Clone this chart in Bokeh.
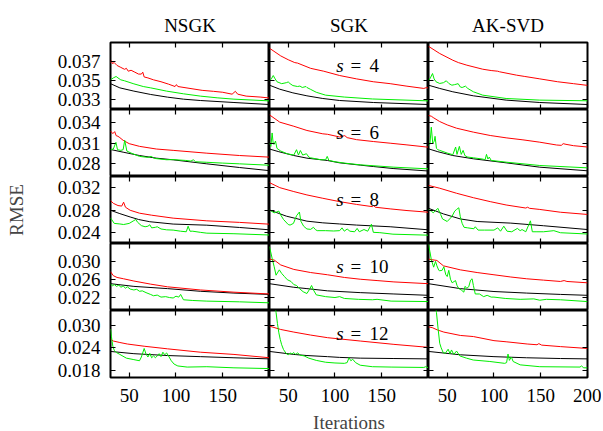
from bokeh.plotting import figure
from bokeh.layouts import gridplot
from bokeh.models import LinearAxis, FixedTicker, Range1d, Label, NumeralTickFormatter
from bokeh.embed import file_html
from bokeh.resources import INLINE

# ---------------- data ----------------
METHODS = ["NSGK", "SGK", "AK-SVD"]
KEYS = ["NSGK", "SGK", "AKSVD"]
SPARSITY = [4, 6, 8, 10, 12]
X_RANGE = [30, 200]
Y_RANGES = [[0.032, 0.039], [0.026, 0.036], [0.022, 0.034], [0.019, 0.034], [0.016, 0.034]]
Y_TICKS = [[0.033, 0.035, 0.037], [0.028, 0.031, 0.034], [0.024, 0.028, 0.032],
           [0.022, 0.026, 0.030], [0.018, 0.024, 0.030]]
X_TICKS = [50, 100, 150]
X_TICKS_LAST = [50, 100, 150, 200]

# s = 4
NSGK_S4_RED_X = [30, 31, 32, 34, 37, 41, 45, 47, 49, 52, 56, 60, 63, 64.5, 66, 70, 76, 84, 92, 99, 100.5, 102, 115, 128, 140, 150, 160, 163.5, 166, 175, 190, 200]
NSGK_S4_RED_Y = [0.0369, 0.0371, 0.0368, 0.0369, 0.0366, 0.0364, 0.0362, 0.0363, 0.0360, 0.0361, 0.0359, 0.0357, 0.0357, 0.0359, 0.0354, 0.0353, 0.0351, 0.0349, 0.03465, 0.0344, 0.0346, 0.0344, 0.0342, 0.0340, 0.0339, 0.0338, 0.0336, 0.0339, 0.0336, 0.0334, 0.0333, 0.0332]
NSGK_S4_GREEN_X = [30, 33, 36, 38, 41, 45, 55, 65, 73, 90, 108, 126, 144, 162, 200]
NSGK_S4_GREEN_Y = [0.0351, 0.0353, 0.03545, 0.0353, 0.0351, 0.0350, 0.03468, 0.0344, 0.03426, 0.03392, 0.03364, 0.0334, 0.03322, 0.03308, 0.0329]
NSGK_S4_BLACK_X = [30, 40, 55, 73, 91, 108, 126, 162, 200]
NSGK_S4_BLACK_Y = [0.0347, 0.03426, 0.03392, 0.03357, 0.03329, 0.03308, 0.03294, 0.03273, 0.03252]
SGK_S4_RED_X = [30, 42, 50, 57, 60, 74, 88, 105, 123, 141, 159, 176, 195, 198, 200]
SGK_S4_RED_Y = [0.0384, 0.0376, 0.0372, 0.0369, 0.03685, 0.0363, 0.0360, 0.03555, 0.0352, 0.0349, 0.0347, 0.03445, 0.0342, 0.0343, 0.0342]
SGK_S4_GREEN_X = [30, 32, 34, 36, 38, 43, 48, 50, 52, 55, 60, 62.5, 65, 69, 70, 74, 80, 90, 110, 140, 200]
SGK_S4_GREEN_Y = [0.0350, 0.0352, 0.03555, 0.0352, 0.0349, 0.0347, 0.0348, 0.03488, 0.0347, 0.0345, 0.0344, 0.03445, 0.0343, 0.0344, 0.0343, 0.0341, 0.0338, 0.0335, 0.0333, 0.0331, 0.0329]
SGK_S4_BLACK_X = [30, 41, 55, 70, 87, 105, 141, 200]
SGK_S4_BLACK_Y = [0.03454, 0.03412, 0.03374, 0.03343, 0.03315, 0.03294, 0.03273, 0.03252]
AKSVD_S4_RED_X = [30, 42, 56, 62, 71, 88, 97, 104, 106, 124, 133, 149, 168, 185, 200]
AKSVD_S4_RED_Y = [0.0386, 0.03785, 0.03715, 0.0369, 0.03663, 0.03621, 0.03607, 0.0360, 0.03594, 0.03559, 0.03545, 0.0352, 0.0349, 0.0347, 0.03452]
AKSVD_S4_GREEN_X = [30, 32, 34.3, 36, 38, 42, 46, 49, 52, 55, 58, 61.7, 64, 66, 69.5, 72, 78, 88, 113, 149, 200]
AKSVD_S4_GREEN_Y = [0.0350, 0.0353, 0.03576, 0.0352, 0.0349, 0.03472, 0.0348, 0.0350, 0.0347, 0.03454, 0.0346, 0.0347, 0.03435, 0.0343, 0.03444, 0.0342, 0.03385, 0.0335, 0.03315, 0.03298, 0.03291]
AKSVD_S4_BLACK_X = [30, 42, 56, 78, 113, 149, 200]
AKSVD_S4_BLACK_Y = [0.03454, 0.0342, 0.03385, 0.03343, 0.03298, 0.03273, 0.03252]

# s = 6
NSGK_S6_RED_X = [30, 32.5, 34.5, 36, 38, 40, 43.5, 50, 61, 79, 97, 133, 168, 200]
NSGK_S6_RED_Y = [0.0328, 0.0324, 0.0327, 0.0321, 0.0320, 0.0318, 0.0314, 0.0309, 0.0305, 0.0301, 0.0299, 0.02948, 0.02913, 0.02889]
NSGK_S6_GREEN_X = [30, 33, 35.8, 37.5, 41, 43.5, 45.2, 47.5, 52, 61, 70, 73.5, 77, 90, 97, 110, 116, 118.5, 121, 133, 150, 168, 200]
NSGK_S6_GREEN_Y = [0.0300, 0.0301, 0.0311, 0.0300, 0.0299, 0.0300, 0.0314, 0.0298, 0.0295, 0.0290, 0.02885, 0.0290, 0.0287, 0.0285, 0.02852, 0.0284, 0.0283, 0.0285, 0.0282, 0.02812, 0.0280, 0.02789, 0.02768]
NSGK_S6_BLACK_X = [30, 43.5, 61, 79, 97, 133, 168, 200]
NSGK_S6_BLACK_Y = [0.03003, 0.02963, 0.02913, 0.02874, 0.02849, 0.02789, 0.02734, 0.02687]
SGK_S6_RED_X = [30, 41, 56, 70, 87, 92, 105, 110.5, 113, 123, 141, 159, 176, 198, 200]
SGK_S6_RED_Y = [0.0352, 0.03411, 0.0335, 0.03287, 0.03237, 0.0323, 0.0319, 0.0321, 0.0318, 0.0315, 0.03122, 0.03097, 0.03073, 0.0304, 0.0304]
SGK_S6_GREEN_X = [30, 31.5, 32.8, 34, 35, 36.4, 38, 42, 49, 56, 58.9, 61, 63, 65.5, 69.5, 72, 74, 85, 90, 91.7, 93.5, 100, 110, 127, 163, 200]
SGK_S6_GREEN_Y = [0.0310, 0.0305, 0.0325, 0.0309, 0.0308, 0.0313, 0.0302, 0.0298, 0.02939, 0.0292, 0.0300, 0.0292, 0.02988, 0.0292, 0.0294, 0.0289, 0.02879, 0.0285, 0.0285, 0.0290, 0.0284, 0.0282, 0.0280, 0.02774, 0.02739, 0.02714]
SGK_S6_BLACK_X = [30, 40, 56, 70, 92, 105, 127, 141, 163, 200]
SGK_S6_BLACK_Y = [0.0301, 0.0297, 0.02913, 0.02874, 0.02839, 0.02804, 0.0277, 0.02749, 0.02718, 0.02682]
AKSVD_S6_RED_X = [30, 33, 35, 42, 50, 60, 78, 96, 113, 131, 149, 167, 172, 174, 177, 185, 200]
AKSVD_S6_RED_Y = [0.0351, 0.0350, 0.0348, 0.0342, 0.0337, 0.03321, 0.03262, 0.03212, 0.03177, 0.03147, 0.03112, 0.0307, 0.03065, 0.0309, 0.0308, 0.0306, 0.0304]
AKSVD_S6_GREEN_X = [30, 31.5, 33, 34.5, 36, 37, 38.5, 40, 42, 50, 56, 59, 60.5, 63, 65, 67, 69, 72, 78, 88, 90.5, 92, 93.5, 95, 97, 113, 149, 200]
AKSVD_S6_GREEN_Y = [0.0306, 0.0308, 0.03336, 0.0310, 0.0312, 0.0320, 0.0302, 0.0300, 0.0299, 0.0295, 0.02925, 0.0304, 0.0293, 0.0305, 0.0293, 0.0299, 0.0291, 0.0289, 0.02879, 0.0286, 0.0285, 0.0293, 0.0286, 0.0289, 0.0284, 0.02814, 0.02764, 0.02729]
AKSVD_S6_BLACK_X = [30, 40, 56, 78, 113, 149, 200]
AKSVD_S6_BLACK_Y = [0.03013, 0.0297, 0.02913, 0.02864, 0.02804, 0.02739, 0.02685]

# s = 8
NSGK_S8_RED_X = [30, 33, 38, 42, 44, 46, 51, 61, 74, 97, 133, 168, 200]
NSGK_S8_RED_Y = [0.0297, 0.0292, 0.0288, 0.0287, 0.0294, 0.0285, 0.02795, 0.02743, 0.02707, 0.02654, 0.02606, 0.02578, 0.02546]
NSGK_S8_GREEN_X = [30, 34, 40, 44, 50, 55, 57, 59, 63, 67, 70, 72, 74, 78, 80, 84, 90, 97, 105, 111, 113, 115, 118, 126, 133, 162, 200]
NSGK_S8_GREEN_Y = [0.0266, 0.0256, 0.0255, 0.0254, 0.0256, 0.0261, 0.0263, 0.0258, 0.0252, 0.0250, 0.0251, 0.02535, 0.0248, 0.0249, 0.0250, 0.0246, 0.02445, 0.0244, 0.0242, 0.0241, 0.0251, 0.0242, 0.0242, 0.0240, 0.02385, 0.02375, 0.02352]
NSGK_S8_BLACK_X = [30, 40, 51, 60, 72, 97, 133, 168, 200]
NSGK_S8_BLACK_Y = [0.02795, 0.02735, 0.02675, 0.0263, 0.0259, 0.02548, 0.02528, 0.02487, 0.02445]
SGK_S8_RED_X = [30, 41, 56, 70, 87, 105, 123, 140, 141.5, 143, 159, 177, 200]
SGK_S8_RED_Y = [0.0329, 0.0320, 0.0313, 0.0307, 0.0301, 0.0295, 0.0290, 0.0286, 0.0288, 0.0285, 0.0282, 0.0279, 0.0276]
SGK_S8_GREEN_X = [30, 33, 35, 37, 40, 42, 45, 50, 52, 55.6, 59, 62, 63.5, 66.5, 70, 74, 77, 79, 81, 90, 98.6, 105, 107.5, 110, 113, 116, 121, 123.7, 126, 131, 135, 139, 141, 148, 162, 200]
SGK_S8_GREEN_Y = [0.0280, 0.0277, 0.0275, 0.0276, 0.0278, 0.0271, 0.0263, 0.0254, 0.0253, 0.0256, 0.0270, 0.02764, 0.0260, 0.0251, 0.0246, 0.02453, 0.0249, 0.0245, 0.0243, 0.0243, 0.02424, 0.0243, 0.0248, 0.0242, 0.0246, 0.0242, 0.0241, 0.0247, 0.0241, 0.0245, 0.0242, 0.02546, 0.0240, 0.02394, 0.02367, 0.02349]
SGK_S8_BLACK_X = [30, 48, 70, 87, 105, 123, 159, 200]
SGK_S8_BLACK_Y = [0.0280, 0.0269, 0.0260, 0.0257, 0.0255, 0.0253, 0.0250, 0.02445]
AKSVD_S8_RED_X = [30, 42, 60, 78, 96, 113, 134, 136, 138, 149, 171, 200]
AKSVD_S8_RED_Y = [0.0324, 0.0319, 0.0310, 0.0302, 0.0295, 0.0289, 0.02835, 0.0285, 0.0283, 0.0281, 0.0276, 0.0272]
AKSVD_S8_GREEN_X = [30, 33, 35, 37, 40, 43, 45, 50, 55, 58, 60, 62.4, 64, 66, 68, 72, 78.5, 80, 83, 90, 100, 104, 107, 110.5, 114, 119, 125, 128, 130, 134, 139, 141, 145, 153, 164, 171, 200]
AKSVD_S8_GREEN_Y = [0.02806, 0.0278, 0.0275, 0.0278, 0.0283, 0.0272, 0.0264, 0.02594, 0.02682, 0.0278, 0.0281, 0.0284, 0.0268, 0.0256, 0.0249, 0.0248, 0.02464, 0.0250, 0.0244, 0.0244, 0.0244, 0.0248, 0.0242, 0.0251, 0.0242, 0.0241, 0.0247, 0.0243, 0.0245, 0.0241, 0.02606, 0.0241, 0.0241, 0.0241, 0.0243, 0.02393, 0.0237]
AKSVD_S8_BLACK_X = [30, 46, 64, 82, 118, 153, 200]
AKSVD_S8_BLACK_Y = [0.0283, 0.0273, 0.0264, 0.02594, 0.02565, 0.02518, 0.0245]

# s = 10
NSGK_S10_RED_X = [30, 33, 37, 44, 55, 73, 91, 126, 162, 200]
NSGK_S10_RED_Y = [0.0277, 0.0268, 0.0264, 0.0261, 0.0256, 0.0249, 0.0243, 0.0236, 0.0231, 0.0227]
NSGK_S10_GREEN_X = [30, 32, 34, 36.5, 39, 41, 43.5, 46, 48, 51, 55, 58, 61, 64, 68, 73, 76, 80, 84, 89, 93, 97, 100, 103, 105, 108, 118, 133, 168, 200]
NSGK_S10_GREEN_Y = [0.0250, 0.0245, 0.0248, 0.0244, 0.0247, 0.0242, 0.0245, 0.0240, 0.0243, 0.0238, 0.0236, 0.02375, 0.0233, 0.0234, 0.0230, 0.02258, 0.0223, 0.02245, 0.0220, 0.0221, 0.0219, 0.0218, 0.0222, 0.0220, 0.0226, 0.0214, 0.02124, 0.0211, 0.02094, 0.02072]
NSGK_S10_BLACK_X = [30, 55, 91, 126, 162, 200]
NSGK_S10_BLACK_Y = [0.0250, 0.0244, 0.0239, 0.0233, 0.0229, 0.0226]
SGK_S10_RED_X = [30, 35, 42, 56, 74, 92, 110, 127, 145, 163, 200]
SGK_S10_RED_Y = [0.0305, 0.0303, 0.0292, 0.0282, 0.0275, 0.0270, 0.0264, 0.0260, 0.0257, 0.0254, 0.0250]
SGK_S10_GREEN_X = [30, 33, 35, 37, 39, 40.5, 43, 46, 49, 53, 56, 59, 62, 66, 70, 73, 75, 77, 80, 90, 100, 105, 110, 125, 140, 145, 160, 200]
SGK_S10_GREEN_Y = [0.0333, 0.0305, 0.0288, 0.0269, 0.0276, 0.0281, 0.0273, 0.0266, 0.0259, 0.0255, 0.0248, 0.0246, 0.0239, 0.0232, 0.0228, 0.0238, 0.0246, 0.0236, 0.0225, 0.0221, 0.0219, 0.0221, 0.0217, 0.0215, 0.0214, 0.0215, 0.0211, 0.0210]
SGK_S10_BLACK_X = [30, 56, 70, 92, 127, 163, 200]
SGK_S10_BLACK_Y = [0.0250, 0.0242, 0.0239, 0.0234, 0.0230, 0.0227, 0.0224]
AKSVD_S10_RED_X = [30, 39, 46, 64, 82, 100, 118, 135, 153, 171, 175, 178, 200]
AKSVD_S10_RED_Y = [0.0305, 0.0302, 0.0290, 0.0281, 0.0275, 0.0270, 0.0265, 0.0261, 0.0258, 0.0255, 0.0257, 0.0255, 0.0252]
AKSVD_S10_GREEN_X = [30, 31.5, 33, 35.5, 37.5, 39, 41, 42, 44.6, 46.4, 48.5, 50, 51.7, 53.5, 55.3, 58.9, 60.5, 62.4, 65, 67.8, 69, 71, 73, 75, 76.6, 78, 80, 84.5, 89, 92.7, 97, 100, 112, 128, 142.6, 149, 156, 171, 200]
AKSVD_S10_GREEN_Y = [0.0338, 0.0322, 0.0304, 0.0287, 0.0300, 0.0290, 0.0280, 0.0279, 0.0280, 0.0288, 0.0270, 0.0266, 0.0280, 0.0260, 0.0252, 0.0257, 0.0246, 0.0239, 0.0236, 0.0231, 0.0244, 0.0240, 0.0243, 0.0258, 0.0261, 0.0246, 0.0227, 0.0227, 0.0221, 0.0224, 0.0220, 0.0220, 0.0217, 0.0215, 0.0216, 0.0213, 0.0215, 0.0214, 0.0210]
AKSVD_S10_BLACK_X = [30, 64, 100, 135, 171, 200]
AKSVD_S10_BLACK_Y = [0.0250, 0.0239, 0.02325, 0.0229, 0.0226, 0.0224]

# s = 12
NSGK_S12_RED_X = [30, 33, 40, 48, 66, 91, 126, 162, 200]
NSGK_S12_RED_Y = [0.0263, 0.0258, 0.0254, 0.0250, 0.0244, 0.0237, 0.0228, 0.0222, 0.0213]
NSGK_S12_GREEN_X = [30, 31, 32.5, 34, 36.4, 40, 47, 55, 61, 63, 66, 68, 70, 72, 74, 76, 78, 80, 82, 84, 86, 88, 90, 92, 95, 98, 102, 112, 133, 162, 200]
NSGK_S12_GREEN_Y = [0.0290, 0.0270, 0.0244, 0.0233, 0.0227, 0.0222, 0.0212, 0.0208, 0.0205, 0.0215, 0.0238, 0.0223, 0.0215, 0.0225, 0.0213, 0.0218, 0.0213, 0.0218, 0.0224, 0.0216, 0.0228, 0.0221, 0.0226, 0.0218, 0.0205, 0.0196, 0.0191, 0.0188, 0.0189, 0.0186, 0.0184]
NSGK_S12_BLACK_X = [30, 55, 91, 126, 162, 200]
NSGK_S12_BLACK_Y = [0.0230, 0.0224, 0.0219, 0.0216, 0.0213, 0.0210]
SGK_S12_RED_X = [30, 42, 56, 74, 92, 127, 163, 200]
SGK_S12_RED_Y = [0.0298, 0.0289, 0.0282, 0.0274, 0.0267, 0.0258, 0.0249, 0.0241]
SGK_S12_GREEN_X = [30, 33, 35.5, 37, 38.5, 40, 41.5, 43, 45, 48, 50, 52, 54, 56, 58, 60, 63, 67, 72, 80, 90, 100, 110, 113, 115, 117, 119, 122, 127, 140, 160, 195, 197, 200]
SGK_S12_GREEN_Y = [0.046, 0.041, 0.036, 0.0335, 0.0305, 0.0280, 0.0262, 0.0248, 0.0235, 0.0224, 0.0221, 0.0226, 0.0223, 0.0227, 0.0222, 0.0226, 0.0220, 0.0218, 0.0212, 0.0206, 0.0201, 0.0199, 0.0198, 0.0200, 0.0213, 0.0205, 0.0209, 0.0200, 0.0193, 0.0189, 0.0188, 0.0187, 0.0189, 0.0186]
SGK_S12_BLACK_X = [30, 56, 70, 92, 105, 127, 163, 200]
SGK_S12_BLACK_Y = [0.0230, 0.0222, 0.0219, 0.0216, 0.0214, 0.0212, 0.0211, 0.0210]
AKSVD_S12_RED_X = [30, 34, 39.3, 46.4, 64, 78, 100, 113, 135.5, 146, 148, 151, 171, 200]
AKSVD_S12_RED_Y = [0.0296, 0.0294, 0.0288, 0.0282, 0.0273, 0.0270, 0.0259, 0.0256, 0.0250, 0.0248, 0.0251, 0.0247, 0.0243, 0.0238]
AKSVD_S12_GREEN_X = [30, 34, 37, 38.5, 40.3, 42, 43.5, 45.7, 48, 51, 53, 54.6, 57, 60, 63.5, 70.6, 77.8, 95.6, 111.5, 113.5, 115, 116.5, 118.6, 120.5, 128, 149, 192, 193.5, 196, 200]
AKSVD_S12_GREEN_Y = [0.052, 0.042, 0.0360, 0.0335, 0.0290, 0.0252, 0.0240, 0.0227, 0.0225, 0.0236, 0.0224, 0.0234, 0.0222, 0.0231, 0.0218, 0.0212, 0.0207, 0.0203, 0.0198, 0.0200, 0.0223, 0.0206, 0.0215, 0.0203, 0.0194, 0.0189, 0.0188, 0.0191, 0.0186, 0.0186]
AKSVD_S12_BLACK_X = [30, 64, 100, 135, 171, 200]
AKSVD_S12_BLACK_Y = [0.0230, 0.0221, 0.0216, 0.0213, 0.0211, 0.0210]

# ---------------- style ----------------
FONT = "Liberation Serif"
FS = "19px"
COLORS = {"BLACK": "#000000", "RED": "#ff0000", "GREEN": "#00ee00"}
DRAW_ORDER = ["BLACK", "RED", "GREEN"]
FW, FH = 159, 67
LEFT, RIGHT, TOP = 110, 14, 42
TICK = 5

D = globals()


def make_axis(ticks, show_labels, fmt=None):
    ax = LinearAxis(ticker=FixedTicker(ticks=ticks), major_tick_in=TICK, major_tick_out=0,
                    minor_tick_line_color=None, axis_line_color=None,
                    major_tick_line_color="black", major_tick_line_width=1.2)
    if fmt is not None:
        ax.formatter = fmt
    if show_labels:
        ax.major_label_text_font = FONT
        ax.major_label_text_font_size = FS
        ax.major_label_text_color = "black"
    else:
        ax.major_label_text_font_size = "0px"
        ax.major_label_text_color = None
        ax.major_label_standoff = 0
    return ax


rows = []
for r, s in enumerate(SPARSITY):
    row = []
    y0, y1 = Y_RANGES[r]
    for c, (m, key) in enumerate(zip(METHODS, KEYS)):
        p = figure(frame_width=FW, frame_height=FH,
                   x_range=Range1d(X_RANGE[0], X_RANGE[1]), y_range=Range1d(y0, y1),
                   output_backend="svg", toolbar_location=None,
                   x_axis_location=None, y_axis_location=None,
                   min_border_left=LEFT if c == 0 else 0,
                   min_border_right=RIGHT if c == 2 else 0,
                   min_border_top=TOP if r == 0 else 0,
                   min_border_bottom=0,
                   title=m if r == 0 else None)
        p.grid.grid_line_color = None
        p.outline_line_color = "black"
        p.outline_line_width = 2
        p.background_fill_color = "white"
        p.border_fill_color = "white"
        if r == 0:
            p.title.align = "center"
            p.title.text_font = FONT
            p.title.text_font_size = FS
            p.title.text_font_style = "normal"
            p.title.text_color = "black"
            p.title.standoff = 13

        fmt = NumeralTickFormatter(format="0.000")
        left = make_axis(Y_TICKS[r], c == 0, fmt)
        if c == 0:
            left.major_label_standoff = 10
            if r == 2:
                left.axis_label = "RMSE"
                left.axis_label_text_font = FONT
                left.axis_label_text_font_size = FS
                left.axis_label_text_font_style = "normal"
                left.axis_label_standoff = 28
        p.add_layout(left, "left")
        p.add_layout(make_axis(Y_TICKS[r], False, fmt), "right")
        p.add_layout(make_axis(X_TICKS, False), "above")
        bticks = X_TICKS_LAST if c == 2 else X_TICKS
        bottom = make_axis(bticks, r == 4)
        if r == 4:
            bottom.major_label_standoff = 11
            if c == 1:
                bottom.axis_label = "Iterations"
                bottom.axis_label_text_font = FONT
                bottom.axis_label_text_font_size = FS
                bottom.axis_label_text_font_style = "normal"
                bottom.axis_label_standoff = 7
        p.add_layout(bottom, "below")

        for col in DRAW_ORDER:
            xs = D[f"{key}_S{s}_{col}_X"]
            ys = D[f"{key}_S{s}_{col}_Y"]
            p.line(xs, ys, line_color=COLORS[col], line_width=1)

        if c == 1:
            yb = y1 - 22.7 / FH * (y1 - y0)
            p.add_layout(Label(x=101.5, y=yb, text="s", text_font=FONT, text_font_size=FS,
                               text_font_style="italic", text_align="left",
                               text_baseline="alphabetic", text_color="black"))
            p.add_layout(Label(x=116.5, y=yb, text="=", text_font=FONT, text_font_size=FS,
                               text_align="left", text_baseline="alphabetic", text_color="black"))
            p.add_layout(Label(x=137, y=yb, text=str(s), text_font=FONT, text_font_size=FS,
                               text_align="left", text_baseline="alphabetic", text_color="black"))
        row.append(p)
    rows.append(row)

grid = gridplot(rows, toolbar_location=None)
open("out.html", "w").write(file_html(grid, INLINE))
